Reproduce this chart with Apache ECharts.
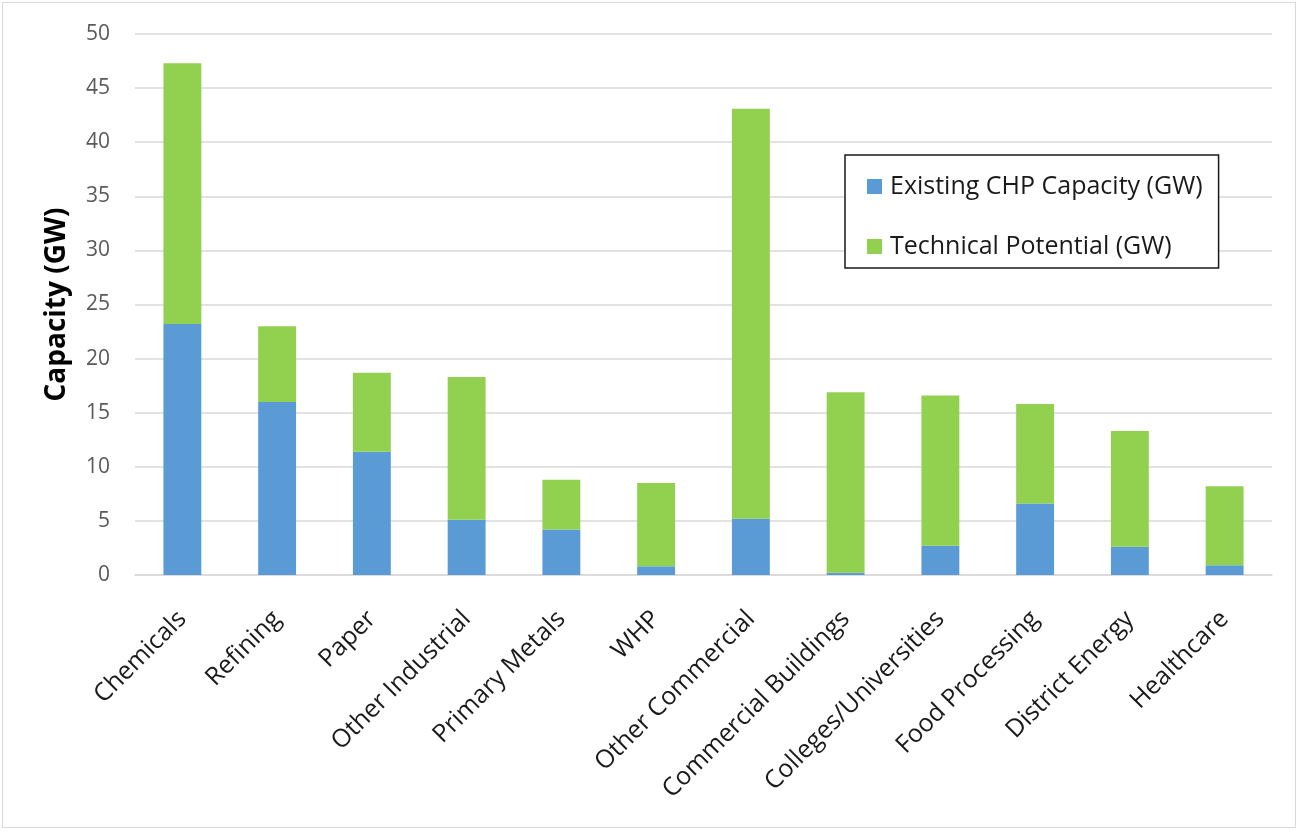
<!DOCTYPE html>
<html>
<head>
<meta charset="utf-8">
<script src="https://cdn.jsdelivr.net/npm/echarts@6/dist/echarts.min.js"></script>
<style>
  html, body { margin: 0; padding: 0; background: #fff; }
  #frame { position: absolute; left: 2px; top: 2px; width: 1294px; height: 826px;
           border: 1px solid #d9d9d9; box-sizing: border-box; }
  #chart { position: absolute; left: 0; top: 0; width: 1300px; height: 832px; }
</style>
</head>
<body>
<div id="frame"></div>
<div id="chart"></div>
<script>
  // 分类 + 两组堆叠数值(GW)
  var sectors = ['Chemicals', 'Refining', 'Paper', 'Other Industrial', 'Primary Metals', 'WHP',
    'Other Commercial', 'Commercial Buildings', 'Colleges/Universities', 'Food Processing',
    'District Energy', 'Healthcare'];
  var existingChp = [23.2, 16.0, 11.4, 5.1, 4.2, 0.8, 5.2, 0.2, 2.7, 6.6, 2.6, 0.9];
  var technicalPotential = [24.1, 7.0, 7.3, 13.2, 4.6, 7.7, 37.9, 16.7, 13.9, 9.2, 10.7, 7.3];
  var yTicks = { min: 0, max: 50, interval: 5 };

  var FONT = 'Open Sans';
  var chart = echarts.init(document.getElementById('chart'));

  chart.setOption({
    animation: false,
    textStyle: { fontFamily: FONT },
    grid: { left: 135, right: 28, top: 34, bottom: 257 },
    legend: {
      orient: 'vertical',
      left: 845, top: 155,
      padding: [19, 16, 9, 22],
      itemGap: 35,
      itemWidth: 15, itemHeight: 15,
      borderColor: '#1a1a1a', borderWidth: 1.5,
      backgroundColor: '#fff',
      icon: 'rect',
      textStyle: { fontFamily: FONT, fontSize: 25, color: '#1a1a1a', padding: [0, 0, 0, 3] },
      data: ['Existing CHP Capacity (GW)', 'Technical Potential (GW)']
    },
    xAxis: {
      type: 'category',
      data: sectors,
      axisLine: { lineStyle: { color: '#d9d9d9', width: 1.5 } },
      axisTick: { show: false },
      axisLabel: { rotate: 45, interval: 0, fontSize: 25, color: '#1a1a1a', margin: 40 }
    },
    yAxis: {
      type: 'value',
      min: yTicks.min, max: yTicks.max, interval: yTicks.interval,
      name: 'Capacity (GW)',
      nameLocation: 'middle',
      nameGap: 64,
      nameTextStyle: { fontFamily: FONT, fontSize: 28, fontWeight: 'bold', color: '#000' },
      axisLabel: { fontSize: 21, color: '#595959', margin: 25 },
      splitLine: { lineStyle: { color: '#d9d9d9', width: 1.5 } },
      axisLine: { show: false },
      axisTick: { show: false }
    },
    series: [
      {
        name: 'Existing CHP Capacity (GW)', type: 'bar', stack: 'cap',
        data: existingChp, barCategoryGap: '60%',
        itemStyle: { color: '#5b9bd5' }
      },
      {
        name: 'Technical Potential (GW)', type: 'bar', stack: 'cap',
        data: technicalPotential, barCategoryGap: '60%',
        itemStyle: { color: '#92d050' }
      }
    ]
  });
</script>
</body>
</html>
